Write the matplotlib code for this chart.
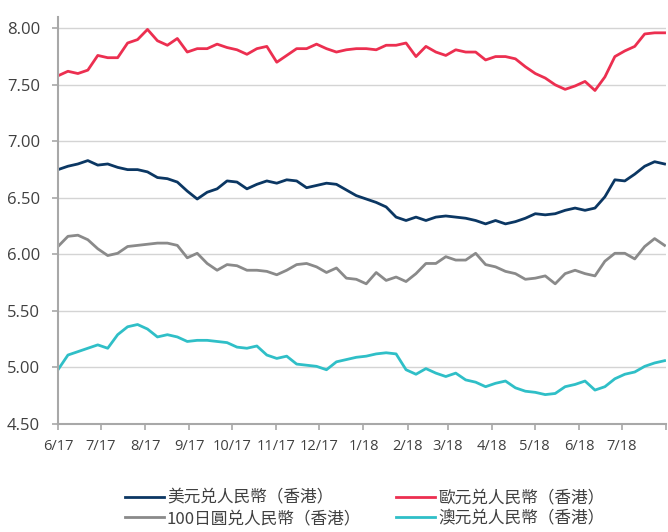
import numpy as np
import pandas as pd
import matplotlib
matplotlib.use("Agg")
import matplotlib.pyplot as plt

# weekly readings, 2017-06-01 .. 2018-07-31
dates = pd.date_range("2017-06-01", "2018-07-31", periods=62)

usd = [6.75, 6.78, 6.80, 6.83, 6.79, 6.80, 6.77, 6.75, 6.75, 6.73,
       6.68, 6.67, 6.64, 6.56, 6.49, 6.55, 6.58, 6.65, 6.64, 6.58,
       6.62, 6.65, 6.63, 6.66, 6.65, 6.59, 6.61, 6.63, 6.62, 6.57,
       6.52, 6.49, 6.46, 6.42, 6.33, 6.30, 6.33, 6.30, 6.33, 6.34,
       6.33, 6.32, 6.30, 6.27, 6.30, 6.27, 6.29, 6.32, 6.36, 6.35,
       6.36, 6.39, 6.41, 6.39, 6.41, 6.51, 6.66, 6.65, 6.71, 6.78,
       6.82, 6.80]
eur = [7.58, 7.62, 7.60, 7.63, 7.76, 7.74, 7.74, 7.87, 7.90, 7.99,
       7.89, 7.85, 7.91, 7.79, 7.82, 7.82, 7.86, 7.83, 7.81, 7.77,
       7.82, 7.84, 7.70, 7.76, 7.82, 7.82, 7.86, 7.82, 7.79, 7.81,
       7.82, 7.82, 7.81, 7.85, 7.85, 7.87, 7.75, 7.84, 7.79, 7.76,
       7.81, 7.79, 7.79, 7.72, 7.75, 7.75, 7.73, 7.66, 7.60, 7.56,
       7.50, 7.46, 7.49, 7.53, 7.45, 7.57, 7.75, 7.80, 7.84, 7.95,
       7.96, 7.96]
jpy = [6.07, 6.16, 6.17, 6.13, 6.05, 5.99, 6.01, 6.07, 6.08, 6.09,
       6.10, 6.10, 6.08, 5.97, 6.01, 5.92, 5.86, 5.91, 5.90, 5.86,
       5.86, 5.85, 5.82, 5.86, 5.91, 5.92, 5.89, 5.84, 5.88, 5.79,
       5.78, 5.74, 5.84, 5.77, 5.80, 5.76, 5.83, 5.92, 5.92, 5.98,
       5.95, 5.95, 6.01, 5.91, 5.89, 5.85, 5.83, 5.78, 5.79, 5.81,
       5.74, 5.83, 5.86, 5.83, 5.81, 5.94, 6.01, 6.01, 5.96, 6.07,
       6.14, 6.08]
aud = [4.98, 5.11, 5.14, 5.17, 5.20, 5.17, 5.29, 5.36, 5.38, 5.34,
       5.27, 5.29, 5.27, 5.23, 5.24, 5.24, 5.23, 5.22, 5.18, 5.17,
       5.19, 5.11, 5.08, 5.10, 5.03, 5.02, 5.01, 4.98, 5.05, 5.07,
       5.09, 5.10, 5.12, 5.13, 5.12, 4.98, 4.94, 4.99, 4.95, 4.92,
       4.95, 4.89, 4.87, 4.83, 4.86, 4.88, 4.82, 4.79, 4.78, 4.76,
       4.77, 4.83, 4.85, 4.88, 4.80, 4.83, 4.90, 4.94, 4.96, 5.01,
       5.04, 5.06]

labels = ["美元兑人民幣（香港）", "100日圓兑人民幣（香港）",
          "歐元兑人民幣（香港）", "澳元兑人民幣（香港）"]
colors = ["#0b3763", "#8a8a8a", "#ec2f50", "#2fbfc7"]

month_ticks = pd.date_range("2017-06-01", "2018-08-01", freq="MS")
month_labels = [f"{d.month}/{d.year % 100}" for d in month_ticks[:-1]] + [""]

plt.rcParams["font.family"] = ["Open Sans", "DejaVu Sans"]

fig = plt.figure(figsize=(6.68, 5.32), dpi=100)
ax = fig.add_axes([58 / 668, 108 / 532, 608 / 668, 407 / 532])

for vals, lab, col in zip([usd, jpy, eur, aud], labels, colors):
    ax.plot(dates, vals, color=col, lw=2.0, label=lab)

ax.set_ylim(4.5, 8.1)
ax.set_yticks(np.arange(4.5, 8.01, 0.5))
ax.yaxis.set_major_formatter(matplotlib.ticker.FormatStrFormatter("%.2f"))
ax.set_xlim(pd.Timestamp("2017-06-01"), pd.Timestamp("2018-08-01"))
ax.set_xticks(month_ticks)
ax.set_xticklabels(month_labels)

ax.grid(axis="y", color="#d4d4d4", lw=1.0)
ax.set_axisbelow(True)
for s in ["top", "right"]:
    ax.spines[s].set_visible(False)
for s in ["left", "bottom"]:
    ax.spines[s].set_color("#a8a8a8")
    ax.spines[s].set_linewidth(1.5)
ax.tick_params(axis="both", colors="#a8a8a8", length=4, width=1.2,
               labelcolor="#404040")
ax.tick_params(axis="y", labelsize=12, pad=9)
ax.tick_params(axis="x", labelsize=10.5, pad=7)

leg = fig.legend(loc="upper left", bbox_to_anchor=(112 / 668, 56 / 532),
                 ncol=2, frameon=False, handlelength=2.3, handletextpad=0.2,
                 columnspacing=2.1, labelspacing=0.22, borderpad=0.3,
                 prop={"family": ["Noto Sans CJK TC", "DejaVu Sans"], "size": 12})
for t in leg.get_texts():
    t.set_color("#404040")

fig.savefig("out.png", dpi=100)
